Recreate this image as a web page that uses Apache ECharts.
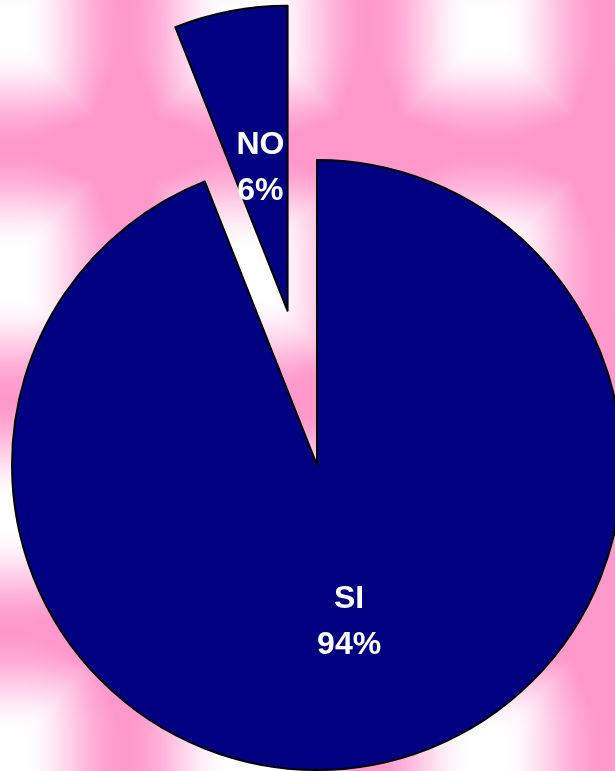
<!DOCTYPE html>
<html>
<head>
<meta charset="utf-8">
<script src="https://cdn.jsdelivr.net/npm/echarts@6/dist/echarts.min.js"></script>
<style>
  html, body { margin: 0; padding: 0; }
  #chart { width: 615px; height: 771px; background-size: 615px 771px; }
</style>
</head>
<body>
<div id="chart"></div>
<script>
// Data
const categories = ['SI', 'NO'];
const values = [94, 6];
const explodedCategory = 'NO';

// Decorative background: pink/white plaid texture
(function () {
  const W = 615, H = 771;
  const cv = document.createElement('canvas');
  cv.width = W; cv.height = H;
  const ctx = cv.getContext('2d');
  const img = ctx.createImageData(W, H);
  const vLines = [-115, 125, 369, 604, 850];
  const hLines = [-92, 148, 398, 630, 870];
  const fall = 105;
  const prof = d => d >= fall ? 0 : 0.5 * (1 + Math.cos(Math.PI * d / fall));
  const nearest = (arr, v) => Math.min.apply(null, arr.map(a => Math.abs(a - v)));
  const fx = new Float32Array(W), fy = new Float32Array(H);
  for (let x = 0; x < W; x++) fx[x] = prof(nearest(vLines, x));
  for (let y = 0; y < H; y++) fy[y] = prof(nearest(hLines, y));
  const pink = [255, 153, 204];
  for (let y = 0; y < H; y++) {
    for (let x = 0; x < W; x++) {
      const a = fx[x], b = fy[y];
      const t = Math.min(1, Math.max(a, b) + 0.25 * Math.min(a, b));
      const i = (y * W + x) * 4;
      img.data[i] = 255 + (pink[0] - 255) * t;
      img.data[i + 1] = 255 + (pink[1] - 255) * t;
      img.data[i + 2] = 255 + (pink[2] - 255) * t;
      img.data[i + 3] = 255;
    }
  }
  ctx.putImageData(img, 0, 0);
  document.getElementById('chart').style.backgroundImage = 'url(' + cv.toDataURL() + ')';
})();

const chart = echarts.init(document.getElementById('chart'), null, { renderer: 'canvas' });
const sliceStyle = { color: '#000080', borderColor: '#000000', borderWidth: 2 };
const labelOffsets = { SI: [3, 4], NO: [2, 10] };
chart.setOption({
  animation: false,
  backgroundColor: 'transparent',
  series: [{
    type: 'pie',
    center: [317, 465],
    radius: [0, 305],
    startAngle: 90,
    clockwise: true,
    selectedMode: 'single',
    selectedOffset: 157,
    itemStyle: sliceStyle,
    emphasis: { disabled: true },
    label: {
      show: true,
      position: 'inside',
      color: '#ffffff',
      fontFamily: 'Liberation Sans, Arial, sans-serif',
      fontWeight: 'bold',
      fontSize: 32,
      lineHeight: 46,
      formatter: p => p.name + '\n' + p.value + '%'
    },
    labelLine: { show: false },
    data: categories.map((c, i) => ({
      name: c,
      value: values[i],
      selected: c === explodedCategory,
      label: { offset: labelOffsets[c] },
      select: { itemStyle: sliceStyle, label: { show: true, offset: labelOffsets[c] } }
    }))
  }]
});
</script>
</body>
</html>
